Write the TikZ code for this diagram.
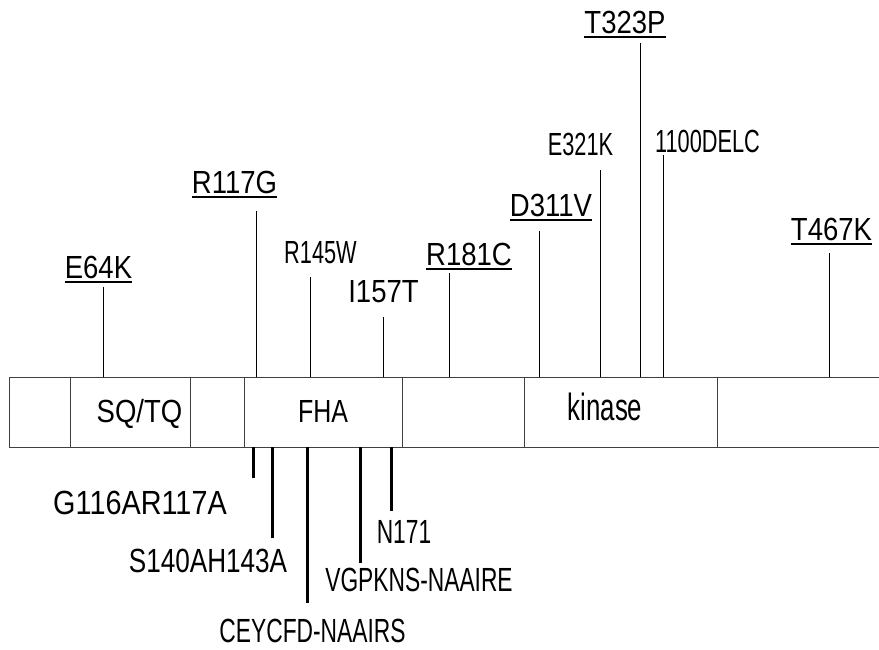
\documentclass[tikz,border=0pt]{standalone}
\usepackage{fontspec}
\setmainfont{Liberation Sans}
\newfontfamily\wfont{Liberation Sans}[FakeStretch=0.86]
\newfontfamily\mfont{Liberation Sans}[FakeStretch=0.78]
\newfontfamily\nfont{Liberation Sans}[FakeStretch=0.68]

\tikzset{
    boxline/.style={line width=0.9pt, black!75},
    stem/.style={line width=0.9pt},
    fatstem/.style={line width=3pt},
    uline/.style={line width=1.8pt},
    lbl/.style={inner sep=0pt, anchor=base, font=\fontsize{32}{36}\selectfont},
    blbl/.style={inner sep=0pt, anchor=base, font=\fontsize{33.5}{38}\selectfont}
}

\begin{document}
\begin{tikzpicture}[x=1pt,y=-1pt]
\useasboundingbox (0,0) rectangle (879,649);

% ===== Khung protein =====
\coordinate (top) at (0,377);
\coordinate (bot) at (0,447);
\draw[boxline] (879,377) -- (9,377) -- (9,447) -- (879,447);
\foreach \x in {70,190,244,402,524,717} {
    \draw[boxline] (\x,377) -- (\x,447);
}

% ===== Ten vung =====
\node[lbl] (sqtq) at (139.5,422) {\wfont SQ/TQ};
\node[lbl] (fha) at (323,422) {\mfont FHA};
\node[lbl, font=\fontsize{38}{42}\selectfont] (kin) at (605,420) {\nfont kinase};

% ===== Dot bien phia tren =====
\node[lbl] (E64K) at (98.5,278) {\wfont E64K};
\node[lbl] (R117G) at (234.5,193) {\wfont R117G};
\node[lbl] (R145W) at (320.5,263) {\nfont R145W};
\node[lbl] (I157T) at (383.5,302) {\wfont I157T};
\node[lbl] (R181C) at (469,265) {\wfont R181C};
\node[lbl] (D311V) at (551,216) {\wfont D311V};
\node[lbl] (E321K) at (580.5,155) {\nfont E321K};
\node[lbl] (T323P) at (625,33) {\wfont T323P};
\node[lbl] (DELC) at (707.5,152) {\nfont 1100DELC};
\node[lbl] (T467K) at (831.5,240) {\wfont T467K};

% gach chan
\foreach \n in {E64K,R117G,R181C,D311V,T323P,T467K} {
    \draw[uline] ([yshift=-4pt]\n.base west) -- ([yshift=-4pt]\n.base east);
}

\coordinate (E64K-t) at (103,287);
\coordinate (R117G-t) at (256,211);
\coordinate (R145W-t) at (310,277);
\coordinate (I157T-t) at (383,317);
\coordinate (R181C-t) at (449,273);
\coordinate (D311V-t) at (539,231);
\coordinate (E321K-t) at (600,170);
\coordinate (T323P-t) at (640,43);
\coordinate (DELC-t) at (663,155);
\coordinate (T467K-t) at (829,253);

\foreach \n in {E64K,R117G,R145W,I157T,R181C,D311V,E321K,T323P,DELC,T467K} {
    \draw[stem] (\n-t) -- (\n-t |- top);
}

% ===== Dot bien phia duoi =====
\node[blbl] (G116) at (140,514) {\wfont G116AR117A};
\node[blbl] (S140) at (208,572) {\mfont S140AH143A};
\node[blbl] (N171) at (404,543) {\nfont N171};
\node[blbl] (VGP) at (419,591) {\nfont VGPKNS-NAAIRE};
\node[blbl] (CEY) at (312.5,642) {\nfont CEYCFD-NAAIRS};

\coordinate (G116-t) at (253,478);
\coordinate (S140-t) at (272,538);
\coordinate (CEY-t) at (307,603);
\coordinate (VGP-t) at (360,563);
\coordinate (N171-t) at (391,511);

\foreach \n in {G116,S140,CEY,VGP,N171} {
    \draw[fatstem] (\n-t) -- (\n-t |- bot);
}

\end{tikzpicture}
\end{document}
